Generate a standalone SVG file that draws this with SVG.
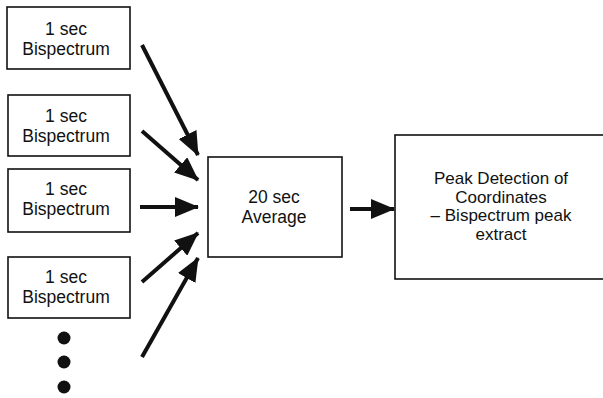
<svg xmlns="http://www.w3.org/2000/svg" width="603" height="398" viewBox="0 0 603 398">
  <defs>
    <style>
      .box { fill: #fff; stroke: #111; stroke-width: 1.6; }
      .lbl { font-family: "Liberation Sans", Arial, sans-serif; font-size: 17.5px; fill: #111; text-anchor: middle; }
      .tight { font-size: 17px; }
      .arrow { stroke: #111; stroke-width: 4; fill: none; marker-end: url(#head); }
      .dot { fill: #111; }
    </style>
    <marker id="head" markerUnits="userSpaceOnUse" markerWidth="24" markerHeight="20" viewBox="0 0 24 20" refX="23" refY="10" orient="auto">
      <path d="M0,0 L24,10 L0,20 Z" fill="#111"/>
    </marker>
  </defs>

  <rect width="603" height="398" fill="#fff"/>

  <!-- input spectra -->
  <g id="spec1">
    <rect class="box" x="7" y="7" width="123" height="62"/>
    <text class="lbl" x="66" y="35">1 sec</text>
    <text class="lbl" x="66" y="55">Bispectrum</text>
  </g>
  <g id="spec2">
    <rect class="box" x="8" y="95" width="122" height="61"/>
    <text class="lbl" x="66" y="122">1 sec</text>
    <text class="lbl" x="66" y="142">Bispectrum</text>
  </g>
  <g id="spec3">
    <rect class="box" x="8" y="169" width="122" height="63"/>
    <text class="lbl" x="66" y="195">1 sec</text>
    <text class="lbl" x="66" y="215">Bispectrum</text>
  </g>
  <g id="spec4">
    <rect class="box" x="8" y="257" width="122" height="61"/>
    <text class="lbl" x="66" y="283">1 sec</text>
    <text class="lbl" x="66" y="303">Bispectrum</text>
  </g>
  <g id="more">
    <circle class="dot" cx="64" cy="338" r="6.5"/>
    <circle class="dot" cx="64" cy="362" r="6.5"/>
    <circle class="dot" cx="64" cy="387" r="6.5"/>
  </g>

  <!-- averaging stage -->
  <g id="average">
    <rect class="box" x="208" y="157" width="134" height="100"/>
    <text class="lbl" x="274" y="203">20 sec</text>
    <text class="lbl" x="274" y="223">Average</text>
  </g>

  <!-- peak detection stage (box runs past the right edge) -->
  <g id="peak">
    <rect class="box" x="395" y="135" width="220" height="144"/>
    <text class="lbl tight" x="501" y="184">Peak Detection of</text>
    <text class="lbl tight" x="501" y="202.5">Coordinates</text>
    <text class="lbl tight" x="501" y="221">– Bispectrum peak</text>
    <text class="lbl tight" x="501" y="239.5">extract</text>
  </g>

  <g id="connectors">
    <line class="arrow" x1="142" y1="45" x2="198" y2="155"/>
    <line class="arrow" x1="142" y1="131" x2="198" y2="180"/>
    <line class="arrow" x1="140" y1="207" x2="198" y2="207"/>
    <line class="arrow" x1="142" y1="282" x2="198" y2="233"/>
    <line class="arrow" x1="142" y1="357" x2="198" y2="258"/>
    <line class="arrow" x1="350" y1="209" x2="394" y2="209"/>
  </g>
</svg>
